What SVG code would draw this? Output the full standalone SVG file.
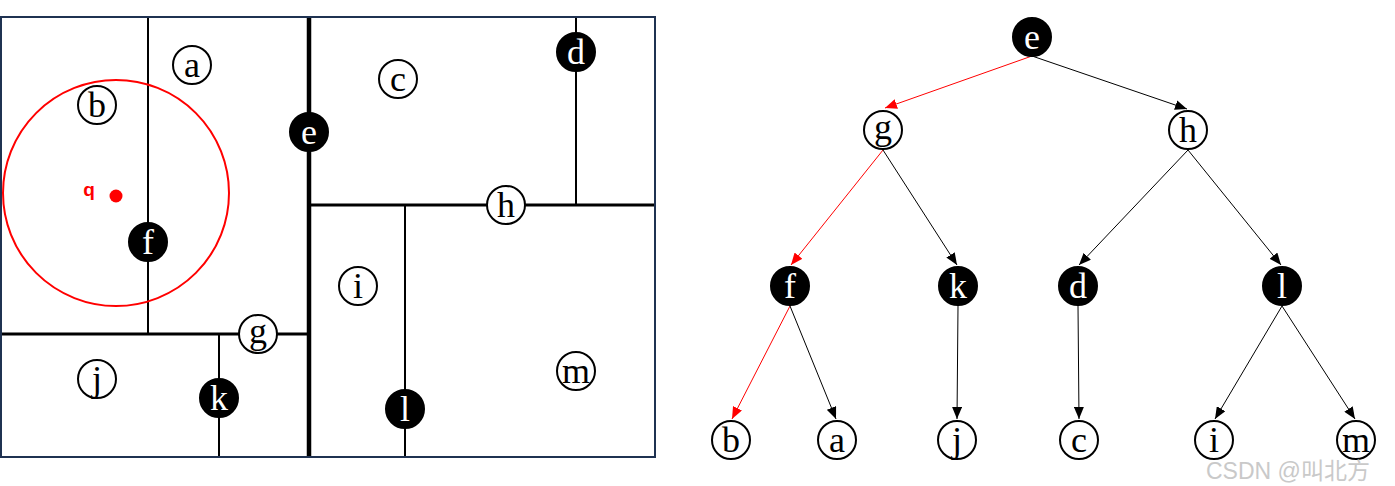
<svg xmlns="http://www.w3.org/2000/svg" width="1395" height="486" viewBox="0 0 1395 486">
<defs>
<style>
.lbl{font-family:"Liberation Serif","Times New Roman",serif;font-size:36px;text-anchor:middle}
.w{fill:#fff;stroke:#000;stroke-width:2}
.b{fill:#000;stroke:#000;stroke-width:2}
.wt{fill:#000}
.bt{fill:#fff}
.part{stroke:#000;fill:none}
.edge{stroke:#000;stroke-width:1;fill:none;marker-end:url(#ah)}
.edge.red{stroke:#f00;marker-end:url(#ahr)}
</style>
<marker id="ah" markerUnits="userSpaceOnUse" markerWidth="12" markerHeight="10" refX="12" refY="5" orient="auto"><path d="M0,0 L12,5 L0,10 z" fill="#000"/></marker>
<marker id="ahr" markerUnits="userSpaceOnUse" markerWidth="12" markerHeight="10" refX="12" refY="5" orient="auto"><path d="M0,0 L12,5 L0,10 z" fill="#f00"/></marker>
</defs>
<rect width="1395" height="486" fill="#fff"/>

<g id="partition">
<line class="part" x1="148" y1="17" x2="148" y2="334" stroke-width="2"/>
<line class="part" x1="1" y1="334" x2="309" y2="334" stroke-width="3"/>
<line class="part" x1="219" y1="334" x2="219" y2="457" stroke-width="2"/>
<line class="part" x1="309" y1="205" x2="655" y2="205" stroke-width="3"/>
<line class="part" x1="576" y1="17" x2="576" y2="205" stroke-width="2"/>
<line class="part" x1="405" y1="205" x2="405" y2="457" stroke-width="2"/>
<line class="part" x1="309" y1="17" x2="309" y2="457" stroke-width="4.5"/>
<rect x="1" y="17" width="654" height="440" fill="none" stroke="#1f3251" stroke-width="2"/>
<circle cx="116" cy="193" r="113" fill="none" stroke="#f00" stroke-width="2"/>
<circle cx="116" cy="196" r="6.5" fill="#f00"/>
<text x="89" y="196" font-family="Liberation Sans, Arial, sans-serif" font-size="19" font-weight="bold" fill="#f00" text-anchor="middle">q</text>
</g>

<g id="p-a"><circle class="w" cx="192" cy="65" r="19"/><text class="lbl wt" x="192" y="77">a</text></g>
<g id="p-b"><circle class="w" cx="97" cy="105" r="19"/><text class="lbl wt" x="97" y="117">b</text></g>
<g id="p-c"><circle class="w" cx="398" cy="79" r="19"/><text class="lbl wt" x="398" y="91">c</text></g>
<g id="p-d"><circle class="b" cx="576" cy="52" r="19"/><text class="lbl bt" x="576" y="64">d</text></g>
<g id="p-e"><circle class="b" cx="309" cy="132" r="19"/><text class="lbl bt" x="309" y="144">e</text></g>
<g id="p-f"><circle class="b" cx="148" cy="242" r="19"/><text class="lbl bt" x="148" y="254">f</text></g>
<g id="p-g"><circle class="w" cx="258" cy="334" r="19"/><text class="lbl wt" x="258" y="343">g</text></g>
<g id="p-h"><circle class="w" cx="506" cy="205" r="19"/><text class="lbl wt" x="506" y="217">h</text></g>
<g id="p-i"><circle class="w" cx="358" cy="286" r="19"/><text class="lbl wt" x="358" y="298">i</text></g>
<g id="p-j"><circle class="w" cx="97" cy="379" r="19"/><text class="lbl wt" x="97" y="391">j</text></g>
<g id="p-k"><circle class="b" cx="219" cy="398" r="19"/><text class="lbl bt" x="219" y="410">k</text></g>
<g id="p-l"><circle class="b" cx="405" cy="409" r="19"/><text class="lbl bt" x="405" y="421">l</text></g>
<g id="p-m"><circle class="w" cx="576" cy="371" r="19"/><text class="lbl wt" x="576" y="383">m</text></g>

<g id="connectors">
<path class="edge red" d="M1032 56 L885 108"/>
<path class="edge" d="M1032 56 L1187 109"/>
<path class="edge red" d="M883 150 L791 265"/>
<path class="edge" d="M883 150 L957 265"/>
<path class="edge" d="M1188 150 L1079 265"/>
<path class="edge" d="M1188 150 L1281 265"/>
<path class="edge red" d="M790 306 L732 419"/>
<path class="edge" d="M790 306 L836 419"/>
<path class="edge" d="M958 306 L957 419"/>
<path class="edge" d="M1078 306 L1079 419"/>
<path class="edge" d="M1282 306 L1215 419"/>
<path class="edge" d="M1282 306 L1355 419"/>
</g>

<g id="t-e"><circle class="b" cx="1032" cy="37" r="19"/><text class="lbl bt" x="1032" y="49">e</text></g>
<g id="t-g"><circle class="w" cx="883" cy="130" r="19"/><text class="lbl wt" x="883" y="139">g</text></g>
<g id="t-h"><circle class="w" cx="1188" cy="130" r="19"/><text class="lbl wt" x="1188" y="142">h</text></g>
<g id="t-f"><circle class="b" cx="790" cy="286" r="19"/><text class="lbl bt" x="790" y="298">f</text></g>
<g id="t-k"><circle class="b" cx="958" cy="286" r="19"/><text class="lbl bt" x="958" y="298">k</text></g>
<g id="t-d"><circle class="b" cx="1078" cy="286" r="19"/><text class="lbl bt" x="1078" y="298">d</text></g>
<g id="t-l"><circle class="b" cx="1282" cy="286" r="19"/><text class="lbl bt" x="1282" y="298">l</text></g>
<g id="t-b"><circle class="w" cx="731" cy="440" r="19"/><text class="lbl wt" x="731" y="452">b</text></g>
<g id="t-a"><circle class="w" cx="837" cy="440" r="19"/><text class="lbl wt" x="837" y="452">a</text></g>
<g id="t-j"><circle class="w" cx="957" cy="440" r="19"/><text class="lbl wt" x="957" y="452">j</text></g>
<g id="t-c"><circle class="w" cx="1079" cy="440" r="19"/><text class="lbl wt" x="1079" y="452">c</text></g>
<g id="t-i"><circle class="w" cx="1214" cy="440" r="19"/><text class="lbl wt" x="1214" y="452">i</text></g>
<g id="t-m"><circle class="w" cx="1356" cy="440" r="19"/><text class="lbl wt" x="1356" y="452">m</text></g>

<text id="watermark" x="1206" y="479" font-family="Liberation Sans, 'Noto Sans CJK SC', sans-serif" font-size="23" fill="#c9c9c9">CSDN @叫北方</text>
</svg>
